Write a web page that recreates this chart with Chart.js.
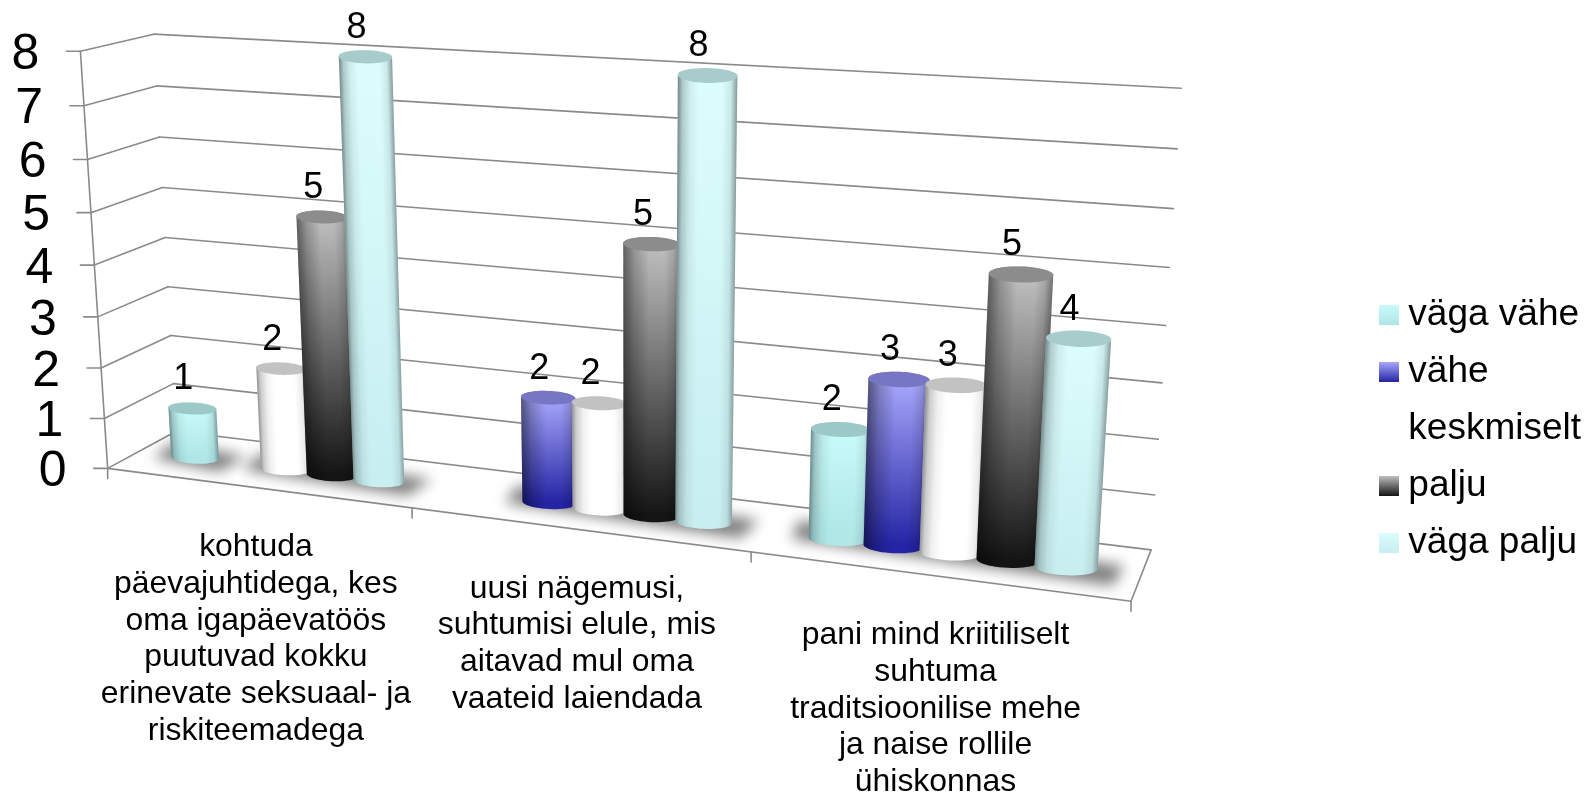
<!DOCTYPE html>
<html><head><meta charset="utf-8">
<style>html,body{margin:0;padding:0;background:#fff}#w{width:1589px;height:794px}</style>
<script src="https://cdn.jsdelivr.net/npm/chart.js@4/dist/chart.umd.min.js"></script>
</head><body><div id="w"><canvas id="c"></canvas></div>
<script>
const categories=[
 ["kohtuda","päevajuhtidega, kes","oma igapäevatöös","puutuvad kokku","erinevate seksuaal- ja","riskiteemadega"],
 ["uusi nägemusi,","suhtumisi elule, mis","aitavad mul oma","vaateid laiendada"],
 ["pani mind kriitiliselt","suhtuma","traditsioonilise mehe","ja naise rollile","ühiskonnas"]
];
const seriesNames=["väga vähe","vähe","keskmiselt","palju","väga palju"];
const vagaVahe=[1,null,2];
const vahe=[null,2,3];
const keskmiselt=[2,2,3];
const palju=[5,5,5];
const vagaPalju=[8,8,4];
const seriesValues=[vagaVahe,vahe,keskmiselt,palju,vagaPalju];
const bodyTop=["#c8fafa","#a8a8fc","#ffffff","#c0c0c0","#dcfdfd"];
const bodyBottom=["#b0e6e6","#2424a4","#ffffff","#141414","#c8eef0"];
const capColor=["#9cc8c8","#7676c4","#c2c2c2","#8c8c8c","#a8cccc"];

// camera calibration: (u, v, depth) -> page pixel
const calib=[
 [0,0,0,108,468],[0,1,0,80,51],[0,0,1,175,431],[0,1,1,154,34],
 [1,1,1,1181,88],[1,0,1,1151,549],[1,0,0,1131,601],
 [1/3,0,0,412,508],[2/3,0,0,751,553],[0,.5,0,95,265],[1,.5,1,1166,326],[0,.5,1,166,237],
 [0,.125,1,173,384],[0,.25,1,171,336],[0,.375,1,168,287],[0,.875,1,157,86],
 [0,.125,0,105,418],[0,.875,0,83,106],[1,.875,1,1177,149],[1,.125,1,1155,495]
];
function solveCam(){
 const A=[],b=[];
 for(const [X,Y,Z,x0,y0] of calib){const x=x0/1000,y=y0/1000;
  A.push([X,Y,Z,1,0,0,0,0,-x*X,-x*Y,-x*Z]);b.push(x);
  A.push([0,0,0,0,X,Y,Z,1,-y*X,-y*Y,-y*Z]);b.push(y);}
 const n=11,M=[];
 for(let i=0;i<n;i++){M[i]=[];for(let j=0;j<=n;j++){let s=0;
  for(let k=0;k<A.length;k++)s+=A[k][i]*(j<n?A[k][j]:b[k]);M[i][j]=s;}}
 for(let i=0;i<n;i++){let p=i;for(let r=i+1;r<n;r++)if(Math.abs(M[r][i])>Math.abs(M[p][i]))p=r;
  [M[i],M[p]]=[M[p],M[i]];
  for(let r=0;r<n;r++)if(r!==i){const f=M[r][i]/M[i][i];for(let j=i;j<=n;j++)M[r][j]-=f*M[i][j];}}
 return M.map((r,i)=>r[n]/r[i]);
}
const cam=solveCam();
function P(u,v,d){const w=cam[8]*u+cam[9]*v+cam[10]*d+1;
 return {x:1000*(cam[0]*u+cam[1]*v+cam[2]*d+cam[3])/w,y:1000*(cam[4]*u+cam[5]*v+cam[6]*d+cam[7])/w};}
function dec(ys,val){return (ys.bottom-ys.getPixelForValue(val))/ys.height;}

const D0=.46,RD=.24,CAP=.25,TILT=.35,FONT='"Liberation Sans", Arial, sans-serif',GRID='#8a8a8a';
function line(ctx,a,b){ctx.beginPath();ctx.moveTo(a.x,a.y);ctx.lineTo(b.x,b.y);ctx.stroke();}
// rim point of a cylinder: width follows the perspective, the ellipse stays shallow
function rim(u,v,ru,t){const c=P(u,v,D0),l=P(u-ru,v,D0),r=P(u+ru,v,D0);
 const ax=(r.x-l.x)/2,ay=(r.y-l.y)/2*TILT,ct=Math.cos(t),st=Math.sin(t);
 return {x:c.x+ax*ct,y:c.y+ay*ct+CAP*ax*st};}

function drawFrame(chart){
 const ctx=chart.ctx,ys=chart.scales.y,N=categories.length;
 ctx.save();ctx.strokeStyle=GRID;ctx.lineWidth=1.6;ctx.lineCap='round';
 ys.ticks.forEach(t=>{const v=dec(ys,t.value);
  const a=P(0,v,0),b=P(0,v,1),c=P(1,v,1);
  line(ctx,{x:a.x-14,y:a.y},a);line(ctx,a,b);line(ctx,b,c);});
 line(ctx,P(0,0,0),P(0,1,0));
 line(ctx,P(0,0,0),P(1,0,0));line(ctx,P(1,0,0),P(1,0,1));
 for(let i=0;i<=N;i++){const a=P(i/N,0,0);line(ctx,a,{x:a.x,y:a.y+10});}
 ctx.fillStyle='#000';ctx.font='50px '+FONT;ctx.textAlign='right';ctx.textBaseline='middle';
 ys.ticks.forEach(t=>{const v=dec(ys,t.value),a=P(0,v,0);
  ctx.fillText(t.label,a.x-41,a.y+4);});
 ctx.font='31.9px '+FONT;ctx.textAlign='center';ctx.textBaseline='alphabetic';
 chart.data.labels.forEach((lines,i)=>{const a=P((i+.5)/N,0,0);
  lines.forEach((s,k)=>ctx.fillText(s,a.x,a.y+68.5+k*36.7));});
 ctx.restore();
}
function barsInfo(chart){
 const xs=chart.scales.x,ys=chart.scales.y,out=[];
 categories.forEach((_,i)=>{const row=[];
  seriesValues.forEach((vals,s)=>{
   if(vals[i]==null){row.push(null);return;}
   const el=chart.getDatasetMeta(s).data[i];
   row.push({s,val:vals[i],u:(el.x-xs.left)/xs.width,ru:el.width/2/xs.width,
    v:dec(ys,vals[i])});});
  out.push(row);});
 return out;
}
function drawShadows(chart,info){
 const ctx=chart.ctx;ctx.save();ctx.filter='blur(7px)';ctx.fillStyle='rgba(0,0,0,.5)';
 info.forEach(row=>{let run=[];
  const flush=()=>{if(!run.length)return;
   const l=run[0],r=run[run.length-1],du=l.ru*.7;
   const a=P(l.u-l.ru-du*.6,0,D0-RD*.5),b=P(r.u+r.ru+du*.9,0,D0-RD*.95),
         c=P(r.u+r.ru+du,0,D0+RD*.7),e=P(l.u-l.ru-du,0,D0+RD*1.1);
   ctx.beginPath();ctx.moveTo(a.x,a.y);ctx.lineTo(b.x,b.y);ctx.lineTo(c.x,c.y);ctx.lineTo(e.x,e.y);ctx.closePath();ctx.fill();run=[];};
  row.forEach(b=>{if(b)run.push(b);else flush();});flush();});
 ctx.restore();
}
const shadeBroad=[[0,.48],[.18,.22],[.45,0],[.72,0],[.88,.12],[1,.38]];
const shadeSoft=[[0,.42],[.07,.2],[.2,.06],[.35,0],[.75,0],[.9,.08],[1,.36]];
function drawBar(ctx,b){
 const K=48,{u,ru,v,s}=b;
 const path=()=>{ctx.beginPath();
  for(let i=0;i<=K/2;i++){const p=rim(u,0,ru,i*2*Math.PI/K);i?ctx.lineTo(p.x,p.y):ctx.moveTo(p.x,p.y);}
  for(let i=K/2;i<=K;i++){const p=rim(u,v,ru,i*2*Math.PI/K);ctx.lineTo(p.x,p.y);}
  ctx.closePath();};
 const ct=P(u,v,D0),cb=P(u,0,D0);
 const g=ctx.createLinearGradient(ct.x,ct.y,cb.x,cb.y);
 g.addColorStop(0,bodyTop[s]);g.addColorStop(1,bodyBottom[s]);
 path();ctx.fillStyle=g;ctx.fill();
 const lm=P(u-ru,v/2,D0),rm=P(u+ru,v/2,D0);
 const ax=cb.x-ct.x,ay=cb.y-ct.y,al=Math.hypot(ax,ay),nx=ay/al,ny=-ax/al;
 const hw=(rm.x-lm.x)/2,mx=(lm.x+rm.x)/2,my=(lm.y+rm.y)/2;
 const h=ctx.createLinearGradient(mx-hw*nx,my-hw*ny,mx+hw*nx,my+hw*ny);
 (s===1||s===3?shadeBroad:shadeSoft).forEach(([p,a])=>h.addColorStop(p,`rgba(0,0,0,${a})`));
 path();ctx.fillStyle=h;ctx.fill();
 ctx.beginPath();for(let i=0;i<=K;i++){const p=rim(u,v,ru,i*2*Math.PI/K);i?ctx.lineTo(p.x,p.y):ctx.moveTo(p.x,p.y);}
 ctx.closePath();ctx.fillStyle=capColor[s];ctx.fill();
}
const cylinderPlugin={id:'cylinders',
 beforeDatasetsDraw(chart){
  const ctx=chart.ctx,info=barsInfo(chart);
  drawFrame(chart);drawShadows(chart,info);
  info.forEach(row=>row.forEach(b=>{if(b)drawBar(ctx,b);}));
  ctx.save();ctx.fillStyle='#000';ctx.font='36px '+FONT;ctx.textAlign='center';ctx.textBaseline='middle';
  info.forEach(row=>row.forEach(b=>{if(!b)return;const c=P(b.u,b.v,D0);ctx.fillText(String(b.val),c.x-9,c.y-29);}));
  ctx.restore();
  return false;
 }};
function swatch(s){const c=document.createElement('canvas');c.width=20;c.height=20;const x=c.getContext('2d');
 const g=x.createLinearGradient(0,0,0,20);g.addColorStop(0,bodyTop[s]);g.addColorStop(1,bodyBottom[s]);
 x.fillStyle=g;x.fillRect(0,0,20,20);return c;}
new Chart(document.getElementById('c'),{
 type:'bar',
 data:{labels:categories,datasets:seriesNames.map((n,s)=>({label:n,data:seriesValues[s],backgroundColor:bodyTop[s],
   barPercentage:1.07,categoryPercentage:.77}))},
 plugins:[cylinderPlugin],
 options:{responsive:true,maintainAspectRatio:false,animation:false,
  layout:{padding:{top:64,right:-2}},
  plugins:{tooltip:{enabled:false},
   legend:{position:'right',labels:{font:{size:37,family:FONT},color:'#000',usePointStyle:true,pointStyleWidth:2,padding:20,
    generateLabels:()=>seriesNames.map((n,s)=>({text:n,fillStyle:bodyTop[s],strokeStyle:'transparent',lineWidth:0,pointStyle:swatch(s),datasetIndex:s,fontColor:'#000'}))}}},
  scales:{x:{display:false},y:{display:false,min:0,max:8,ticks:{stepSize:1}}}}
});
</script></body></html>
